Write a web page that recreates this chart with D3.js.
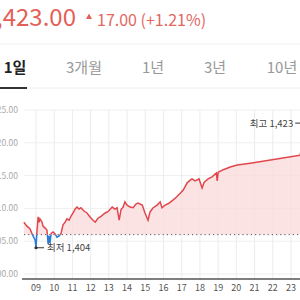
<!DOCTYPE html>
<html>
<head>
<meta charset="utf-8">
<title>1일 차트</title>
<script src="https://cdn.jsdelivr.net/npm/d3@7"></script>
<style>
body{
	margin: 0;
	background: #fff;
	font-family: "Noto Sans CJK KR", "Noto Sans", sans-serif;
}
svg{ display: block; }
</style>
</head>
<body>
<div id="chart"></div>
<script>

// price data (time of day, price)
var times = ["08:20","08:30","08:40","08:50","08:57","09:00","09:03","09:07","09:10","09:13",
	"09:20","09:23","09:30","09:36","09:40","09:43","09:46","09:50","09:56","10:03",
	"10:09","10:16","10:22","10:29","10:36","10:42","10:49","10:55","11:02","11:09",
	"11:15","11:22","11:28","11:38","11:48","11:58","12:08","12:15","12:24","12:34",
	"12:48","12:57","13:11","13:20","13:27","13:34","13:40","13:47","13:53","14:00",
	"14:10","14:20","14:30","14:36","14:50","14:59","15:09","15:16","15:26","15:39",
	"15:49","15:55","16:05","16:15","16:32","16:42","16:55","17:05","17:18","17:28",
	"17:34","17:44","17:57","18:07","18:14","18:27","18:40","18:54","18:57","19:00",
	"19:17","19:40","20:03","20:46","23:30","23:50"];
var prices = [1407.9,1407.3,1406.9,1405.8,1405.2,1404.0,1406.4,1408.7,1407.9,1408.4,
	1407.9,1407.3,1407.0,1406.7,1404.6,1405.8,1404.7,1406.2,1406.4,1406.1,
	1405.6,1405.8,1406.1,1407.5,1407.9,1408.4,1408.2,1408.8,1409.3,1409.9,
	1410.2,1409.9,1410.1,1409.6,1409.3,1408.7,1408.2,1407.9,1408.5,1408.8,
	1409.3,1409.5,1410.2,1409.9,1410.1,1408.2,1409.8,1410.2,1411.0,1410.5,
	1410.2,1410.1,1410.7,1410.8,1410.5,1409.3,1408.2,1409.5,1410.1,1410.5,
	1411.0,1410.1,1410.5,1410.7,1411.3,1411.7,1412.3,1412.8,1413.9,1414.3,
	1414.5,1414.2,1414.5,1413.1,1414.0,1414.5,1414.8,1415.4,1414.2,1415.5,
	1415.9,1416.3,1416.6,1416.9,1418.1,1423.0];

var prevClose = 1406;
var hourTicks = [9,10,11,12,13,14,15,16,17,18,19,20,21,22,23];
var priceTicks = [1400,1405,1410,1415,1420,1425];
var tabs = ["1일","3개월","1년","3년","10년"];

var red = "#e0474c";
var blue = "#2b7bd6";

function parseTime(s) {
	var p = s.split(":");
	return +p[0] + p[1] / 60;
}
var data = times.map(function(t, i) { return {h: parseTime(t), v: prices[i]}; });

var svg = d3.select("#chart").append("svg")
	.attr("width", 300)
	.attr("height", 300);

// ---- header
var lastPrice = prices[prices.length - 1];
var change = lastPrice - prevClose;
var fmt2 = d3.format(",.2f");

svg.append("text")
	.attr("x", 76).attr("y", 26)
	.attr("text-anchor", "end")
	.attr("font-size", 24)
	.attr("fill", "#e35f57")
	.text(fmt2(lastPrice));

svg.append("path")
	.attr("d", "M86,19 L89,13.5 L92,19 Z")
	.attr("fill", "#e35f57");

svg.append("text")
	.attr("x", 97).attr("y", 26)
	.attr("font-size", 16)
	.attr("fill", "#e3675f")
	.text(d3.format(".2f")(change) + " (+" + d3.format(".2f")(change / prevClose * 100) + "%)");

svg.append("line")
	.attr("x1", 0).attr("x2", 300).attr("y1", 44).attr("y2", 44)
	.attr("stroke", "#f2f2f2");

// ---- tabs
var tabX = [15, 84, 153, 215, 282];
svg.selectAll("text.tab")
	.data(tabs)
	.join("text")
	.attr("class", "tab")
	.attr("x", (d, i) => tabX[i])
	.attr("y", 73)
	.attr("text-anchor", "middle")
	.attr("font-size", 15)
	.attr("font-weight", (d, i) => i == 0 ? "bold" : "normal")
	.attr("fill", (d, i) => i == 0 ? "#222" : "#999")
	.text(d => d);

svg.append("line")
	.attr("x1", 0).attr("x2", 300).attr("y1", 88).attr("y2", 88)
	.attr("stroke", "#eeeeee");
svg.append("line")
	.attr("x1", 0).attr("x2", 27).attr("y1", 88).attr("y2", 88)
	.attr("stroke", "#333").attr("stroke-width", 2);

// ---- scales
var x = d3.scaleLinear().domain([9, 23]).range([36, 291]);
var y = d3.scaleLinear().domain([1400, 1425]).range([274, 110]);

// grid
svg.append("g").selectAll("line")
	.data(priceTicks)
	.join("line")
	.attr("x1", 24).attr("x2", 300)
	.attr("y1", d => y(d)).attr("y2", d => y(d))
	.attr("stroke", "#efefef");

svg.append("g").selectAll("line")
	.data(hourTicks)
	.join("line")
	.attr("x1", d => x(d)).attr("x2", d => x(d))
	.attr("y1", y(1425)).attr("y2", 279)
	.attr("stroke", "#ececec");

svg.append("g").selectAll("text")
	.data(priceTicks)
	.join("text")
	.attr("x", 18)
	.attr("y", d => y(d) + 3)
	.attr("text-anchor", "end")
	.attr("font-size", 8.5)
	.attr("fill", "#aaa")
	.text(d => fmt2(d));

// ---- areas and line, split at previous close
var yBase = y(prevClose);
var defs = svg.append("defs");
defs.append("clipPath").attr("id", "above")
	.append("rect").attr("x", 0).attr("y", 0).attr("width", 300).attr("height", yBase);
defs.append("clipPath").attr("id", "below")
	.append("rect").attr("x", 0).attr("y", yBase).attr("width", 300).attr("height", 300 - yBase);

var area = d3.area()
	.x(d => x(d.h))
	.y0(yBase)
	.y1(d => y(d.v));
var line = d3.line()
	.x(d => x(d.h))
	.y(d => y(d.v));

svg.append("path").datum(data)
	.attr("clip-path", "url(#above)")
	.attr("d", area)
	.attr("fill", "#fbdcdc")
	.attr("fill-opacity", 0.8);
svg.append("path").datum(data)
	.attr("clip-path", "url(#below)")
	.attr("d", area)
	.attr("fill", "#dce8f8")
	.attr("fill-opacity", 0.6);

svg.append("line")
	.attr("x1", 24).attr("x2", 300)
	.attr("y1", yBase).attr("y2", yBase)
	.attr("stroke", "#555")
	.attr("stroke-dasharray", "1.2,3");

svg.append("path").datum(data)
	.attr("clip-path", "url(#above)")
	.attr("d", line)
	.attr("fill", "none")
	.attr("stroke", red)
	.attr("stroke-width", 1.5);
svg.append("path").datum(data)
	.attr("clip-path", "url(#below)")
	.attr("d", line)
	.attr("fill", "none")
	.attr("stroke", blue)
	.attr("stroke-width", 1.5);

// ---- x axis
svg.append("line")
	.attr("x1", 22).attr("x2", 300).attr("y1", 279).attr("y2", 279)
	.attr("stroke", "#555").attr("stroke-width", 1.5);

svg.append("g").selectAll("text")
	.data(hourTicks)
	.join("text")
	.attr("x", d => x(d))
	.attr("y", 291)
	.attr("text-anchor", "middle")
	.attr("font-size", 9)
	.attr("fill", "#555")
	.text(d => d3.format("02d")(d));

// ---- min / max labels
var minD = data.reduce((a, b) => b.v < a.v ? b : a);
var maxD = data.reduce((a, b) => b.v > a.v ? b : a);

svg.append("circle")
	.attr("cx", x(minD.h)).attr("cy", y(minD.v)).attr("r", 1.6)
	.attr("fill", "#333");
svg.append("line")
	.attr("x1", x(minD.h)).attr("x2", x(minD.h) + 8)
	.attr("y1", y(minD.v)).attr("y2", y(minD.v))
	.attr("stroke", "#333");
svg.append("text")
	.attr("x", x(minD.h) + 11).attr("y", y(minD.v) + 3.5)
	.attr("font-size", 9.5)
	.attr("fill", "#444")
	.text("최저 " + d3.format(",")(Math.round(minD.v)));

svg.append("line")
	.attr("x1", x(maxD.h) - 11).attr("x2", x(maxD.h))
	.attr("y1", y(maxD.v)).attr("y2", y(maxD.v))
	.attr("stroke", "#333");
svg.append("text")
	.attr("x", x(maxD.h) - 13).attr("y", y(maxD.v) + 3.5)
	.attr("text-anchor", "end")
	.attr("font-size", 9.5)
	.attr("fill", "#444")
	.text("최고 " + d3.format(",")(Math.round(maxD.v)));

</script>
</body>
</html>
